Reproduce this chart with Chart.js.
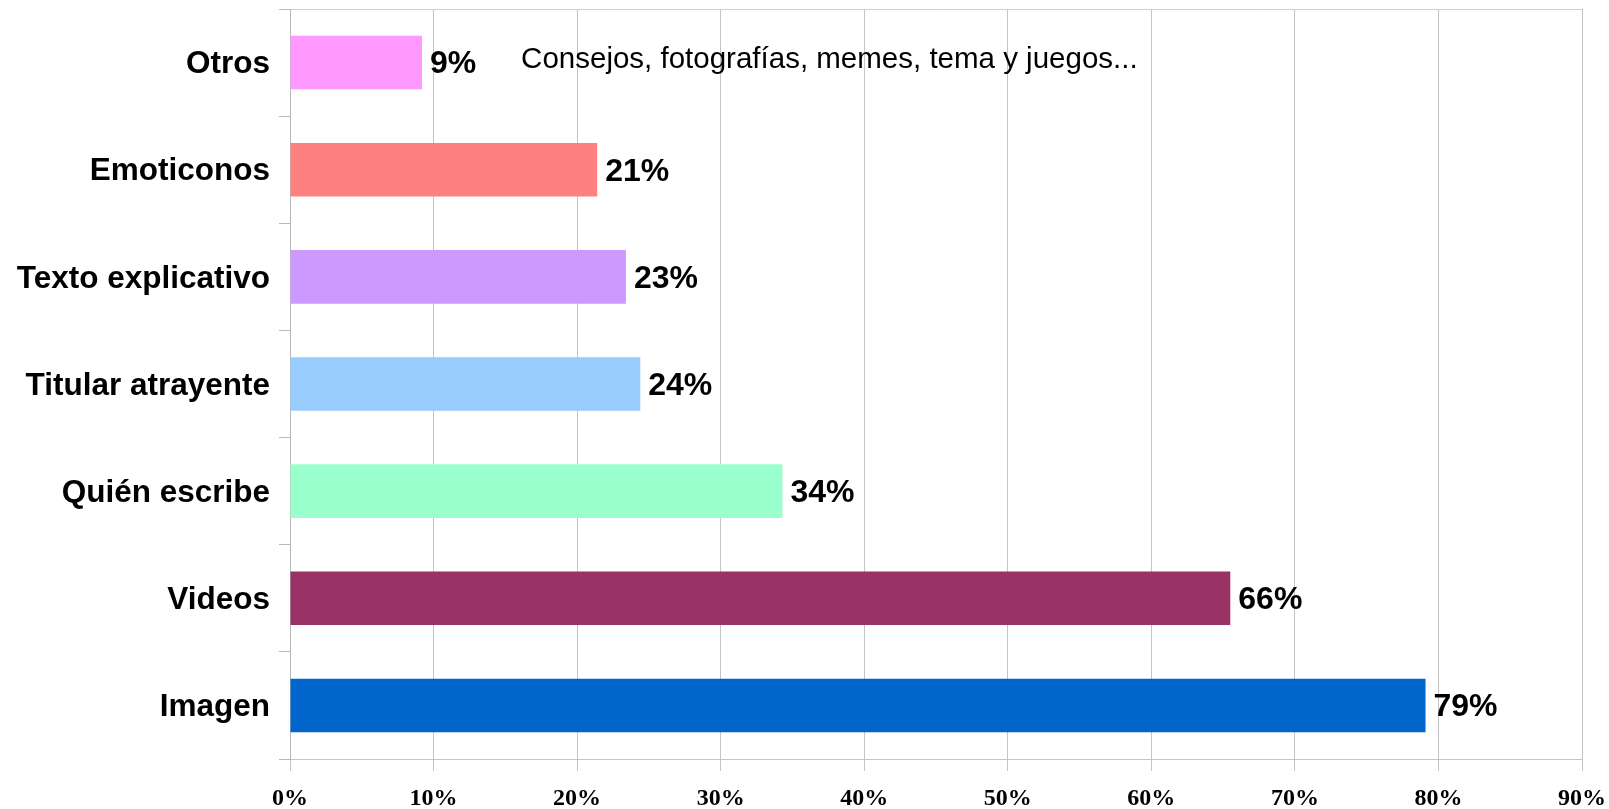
<!DOCTYPE html>
<html>
<head>
<meta charset="utf-8">
<script src="https://cdn.jsdelivr.net/npm/chart.js@4/dist/chart.umd.min.js"></script>
<style>
  html, body { margin: 0; padding: 0; background: #ffffff; }
  #wrap { width: 1609px; height: 809px; position: relative; }
</style>
</head>
<body>
<div id="wrap"><canvas id="chart"></canvas></div>
<script>
// Survey: which elements make a post attractive (percent of respondents)
const categories = ['Otros', 'Emoticonos', 'Texto explicativo', 'Titular atrayente', 'Quién escribe', 'Videos', 'Imagen'];
const shares = [9.2, 21.4, 23.4, 24.4, 34.3, 65.5, 79.1];
const barColors = ['#ff99ff', '#ff8080', '#cc99ff', '#99ccff', '#99ffcc', '#993366', '#0066cc'];
const xTickMax = 90;
const xTickStep = 10;
const otrosNote = 'Consejos, fotografías, memes, tema y juegos...';

// Value labels at the end of each bar, plus the note beside "Otros"
const barLabels = {
  id: 'barLabels',
  afterDatasetsDraw(chart) {
    const ctx = chart.ctx;
    const meta = chart.getDatasetMeta(0);
    ctx.save();
    ctx.fillStyle = '#000000';
    ctx.textBaseline = 'middle';
    ctx.textAlign = 'left';
    ctx.font = 'bold 32px "Liberation Sans", Arial, sans-serif';
    meta.data.forEach((bar, i) => {
      ctx.fillText(Math.round(shares[i]) + '%', bar.x + 8, bar.y + 2);
    });
    const xs = chart.scales.x, ys = chart.scales.y;
    ctx.font = '29.5px "Liberation Sans", Arial, sans-serif';
    ctx.fillText(otrosNote, xs.getPixelForValue(16.1), ys.getPixelForValue(0) - 3);
    ctx.restore();
  }
};

new Chart(document.getElementById('chart'), {
  type: 'bar',
  data: {
    labels: categories,
    datasets: [{
      data: shares,
      backgroundColor: barColors,
      borderWidth: 0,
      categoryPercentage: 1,
      barPercentage: 0.5
    }]
  },
  options: {
    indexAxis: 'y',
    responsive: true,
    maintainAspectRatio: false,
    animation: false,
    events: [],
    layout: { padding: { top: 9, right: 27, left: 0, bottom: 0 } },
    plugins: {
      legend: { display: false },
      tooltip: { enabled: false }
    },
    scales: {
      x: {
        min: 0,
        max: xTickMax,
        afterFit(scale) {
          scale.height = 50;
          scale.paddingLeft = 0;
          scale.paddingRight = 0;
        },
        grid: {
          color: '#c4c4c4',
          lineWidth: 1,
          tickLength: 12,
          drawTicks: true
        },
        border: { color: '#c4c4c4', width: 1 },
        ticks: {
          stepSize: xTickStep,
          padding: 13,
          color: '#000000',
          font: { family: '"Liberation Serif", "Times New Roman", serif', size: 24, weight: 'bold' },
          callback: (v) => v + '%'
        }
      },
      y: {
        afterFit(scale) {
          scale.width = 290;
          scale.paddingTop = 0;
          scale.paddingBottom = 0;
        },
        grid: {
          offset: true,
          color: (c) => (c.index === 0 ? '#d0d0d0' : 'rgba(0,0,0,0)'),
          tickColor: '#b8b8b8',
          tickLength: 11,
          lineWidth: 1
        },
        border: { color: '#b8b8b8', width: 1 },
        ticks: {
          padding: 9,
          labelOffset: 2,
          color: '#000000',
          font: { family: '"Liberation Sans", Arial, sans-serif', size: 31.5, weight: 'bold' }
        }
      }
    }
  },
  plugins: [barLabels]
});
</script>
</body>
</html>
